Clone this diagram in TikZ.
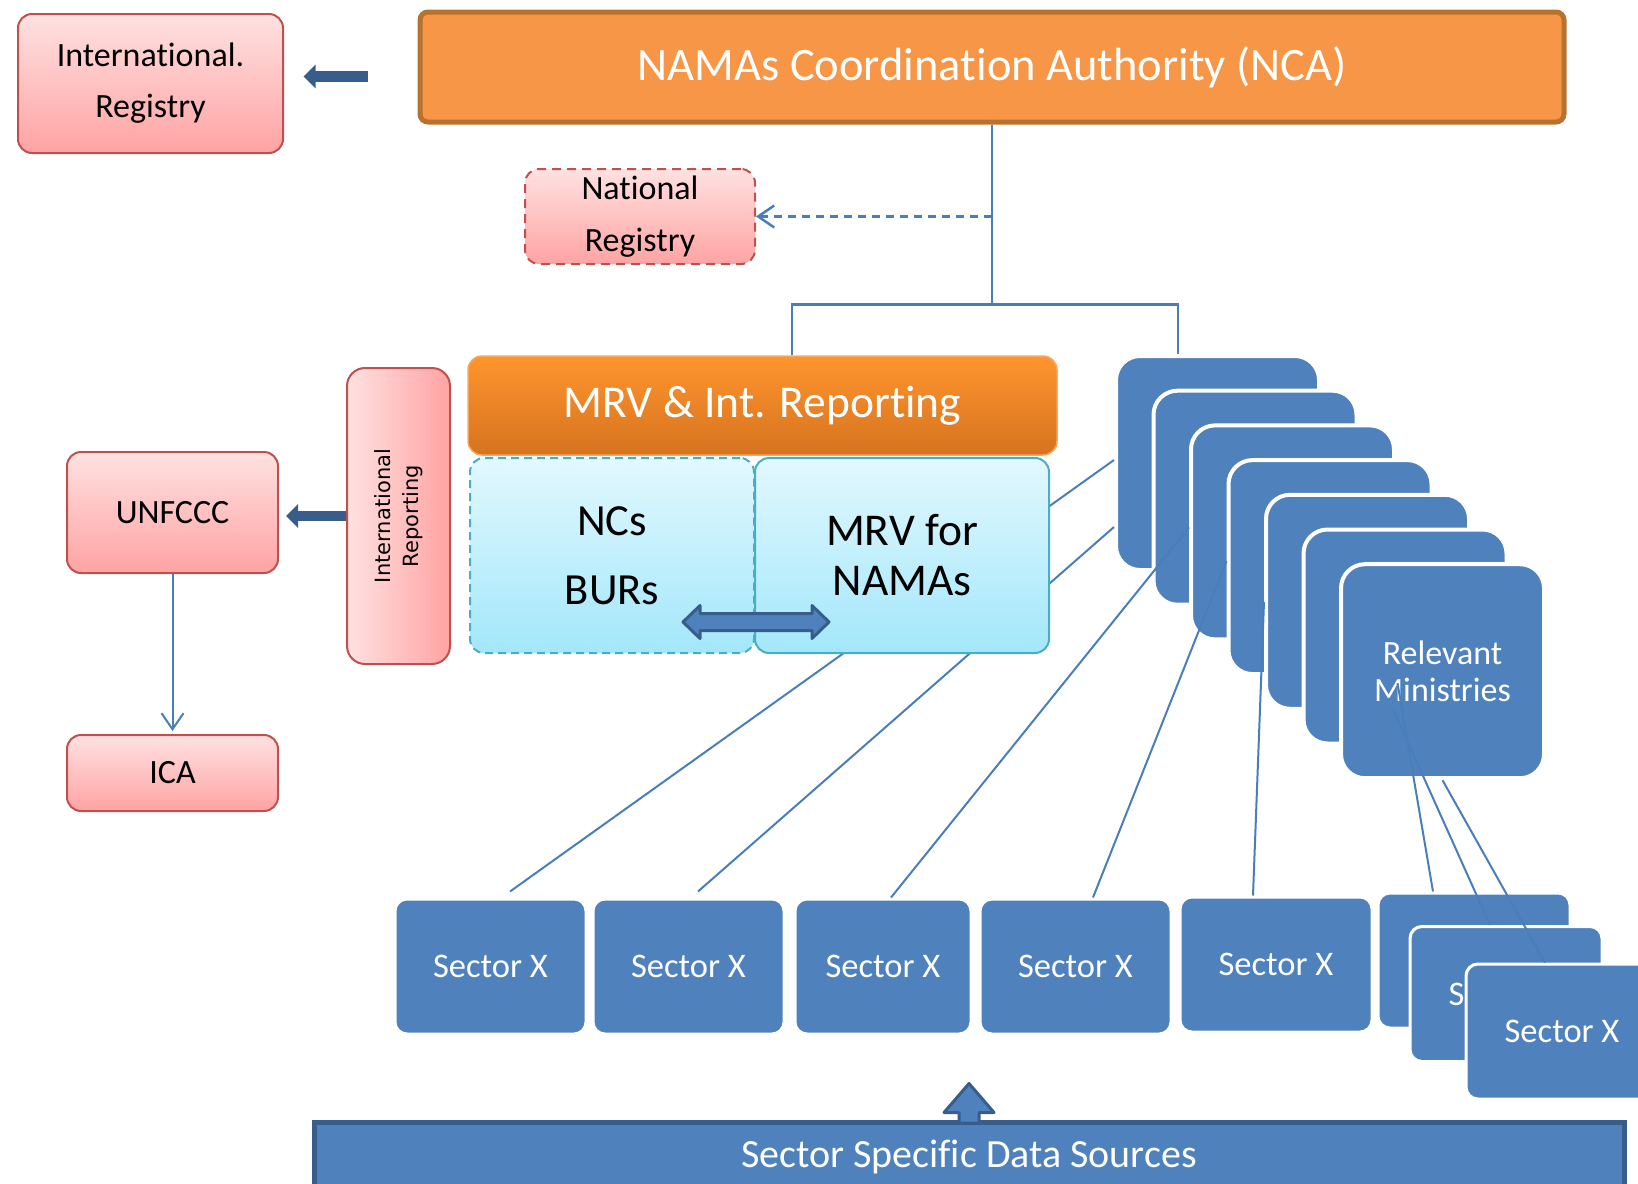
\documentclass[tikz,border=0pt]{standalone}
\usepackage{fontspec}
\usepackage{graphicx}
\setmainfont{Carlito}[Ligatures={NoCommon}]
\newfontfamily\verdfont{DejaVu Sans}
\usetikzlibrary{arrows.meta}
\definecolor{Blue}{HTML}{4F81BD}
\definecolor{DarkBlue}{HTML}{385D8A}
\definecolor{Link}{HTML}{4A7EBB}
\definecolor{Orange}{HTML}{F79646}
\definecolor{OrangeLine}{HTML}{B8722F}
\definecolor{PinkTop}{HTML}{FFE1E1}
\definecolor{PinkBottom}{HTML}{FFA3A3}
\definecolor{PinkLine}{HTML}{C0504D}
\definecolor{CyanTop}{HTML}{E2F8FE}
\definecolor{CyanBottom}{HTML}{A3E7FB}
\definecolor{CyanLine}{HTML}{4BACC6}
\definecolor{MrvTop}{HTML}{FF952E}
\definecolor{MrvBottom}{HTML}{D6731F}
\definecolor{MrvLine}{HTML}{F9A65A}

\begin{document}
\begin{tikzpicture}
    [x=1pt, y=-1pt,
    pinkbox/.style={draw=PinkLine, line width=2pt, rounded corners=14pt, top color=PinkTop, bottom color=PinkBottom,
        inner sep=0pt, align=center, font=\fontsize{34}{51}\selectfont},
    cyanbox/.style={draw=CyanLine, line width=2pt, rounded corners=14pt, top color=CyanTop, bottom color=CyanBottom,
        inner sep=0pt, align=center, minimum height=195pt},
    ministry/.style={draw=white, line width=4pt, fill=Blue, rounded corners=24pt, minimum width=203pt, minimum height=214pt,
        text=white, align=center, font=\fontsize{34}{37}\selectfont},
    sector/.style={draw=white, line width=3pt, fill=Blue, rounded corners=12pt, minimum width=192pt, minimum height=135pt,
        text=white, font=\fontsize{34.5}{40}\selectfont},
    link/.style={Link, line width=2.5pt},
    tip/.style={-{Straight Barb[length=16pt,width=22pt]}},
    fatarrow/.style={DarkBlue, line width=10.5pt, -{Triangle[width=23pt,length=12pt]}},
    blockarrow/.style={fill=Blue, draw=DarkBlue, line width=3pt, line join=round}]

    \useasboundingbox (0,0) rectangle (1638,1183);

    % top row
    \node [draw=OrangeLine, line width=5pt, fill=Orange, rounded corners=8pt, minimum width=1144pt, minimum height=110pt,
        text=white, font=\fontsize{46.5}{54}\selectfont] (nca) at (992,67) {NAMAs Coordination Authority (NCA)};
    \node [pinkbox, minimum width=265pt, minimum height=139pt] (intreg) at (150.5,83.5) {International.\\Registry};
    \node [pinkbox, dash pattern=on 9pt off 6pt, minimum width=230pt, minimum height=95pt,
        font=\fontsize{34}{52}\selectfont] (natreg) at (640,216.5) {National\\Registry};
    \draw [fatarrow, shorten <=50pt, shorten >=19.5pt] ([yshift=-9.5pt]nca.west) -- ([yshift=-9.5pt]nca.west -| intreg.east);

    % relevant ministries
    \foreach \k in {0,...,5}
        \node [ministry] (m\k) at ({1217.5+37.5*\k},{463+34.7*\k}) {};
    \node [ministry] (m6) at (1442.5,671.2) {Relevant\\Ministries};

    % sectors
    \foreach \n/\cx/\w in {1/490.5/191pt, 2/688.5/191pt, 3/883/176pt, 4/1075.5/191pt}
        \node [sector, minimum width=\w] (s\n) at (\cx,966.5) {Sector X};
    \node [sector] (s5) at (1276,964.5) {Sector X};
    \node [sector] (sa) at (1474,960.5) {Sector X};
    \node [sector] (sb) at (1506,994) {Sector X};
    \node [sector] (sc) at (1562,1031.5) {Sector X};

    \draw [link, line width=2pt] ([shift={(19.5,-6)}]s1.north) -- ([yshift=3pt]m0.west);
    \draw [link, line width=2pt] ([shift={(9.5,-6)}]s2.north) -- ([yshift=-64pt]m0.west);
    \draw [link, line width=2pt] ([xshift=8pt]s3.north) -- ([yshift=5pt]m2.west);
    \draw [link, line width=2pt] ([xshift=17.5pt]s4.north) -- ([yshift=6pt]m3.west);
    \draw [link, line width=2pt] ([xshift=-23pt]s5.north) -- (m4.west);
    \draw [link, line width=2pt] ([shift={(-45,12)}]m6.center) -- ([xshift=-41pt]sa.north);
    \draw [link, line width=2pt] ([shift={(-49,39)}]m6.center) -- ([xshift=-16pt]sb.north);
    \draw [link, line width=2pt] (m6.south) -- ([xshift=-17pt]sc.north);

    % MRV block
    \node [draw=MrvLine, line width=1.5pt, rounded corners=14pt, top color=MrvTop, bottom color=MrvBottom,
        minimum width=589pt, minimum height=99pt, text=white, font=\fontsize{45.5}{54}\selectfont] (mrv) at (762.5,405.5) {MRV \& Int. Reporting};
    \node [cyanbox, dash pattern=on 8pt off 5pt, minimum width=284pt, font=\fontsize{44.5}{69}\selectfont] (ncs) at (612,555.5) {NCs\\BURs};
    \node [cyanbox, minimum width=294pt, font=\fontsize{45.5}{50}\selectfont] (mrvnamas) at (902,555.5) {MRV for\\NAMAs};
    \coordinate (swap) at (756,622);
    \filldraw [blockarrow] (swap) ++(-73,0) -- ++(17,-16.5) -- ++(0,8) -- ++(112,0) -- ++(0,-8) -- ++(17,16.5)
        -- ++(-17,16.5) -- ++(0,-8) -- ++(-112,0) -- ++(0,8) -- cycle;

    \path (nca.south) ++(0,180) coordinate (fork);
    \draw [link] (nca.south) -- (fork);
    \draw [link] ([xshift=29.5pt]mrv.north) |- (fork) -| ([xshift=-39.5pt]m0.north);
    \draw [link, dash pattern=on 8pt off 6pt, tip] (fork |- natreg.east) -- (natreg.east);

    % international side
    \node [pinkbox, left color=PinkTop, right color=PinkBottom, rounded corners=18pt, minimum width=103pt, minimum height=296pt,
        font=\verdfont\fontsize{21}{28}\selectfont] (intrep) at (398.5,516)
        {\rotatebox{90}{\begin{tabular}{@{}c@{}}International\\Reporting\end{tabular}}};
    \node [pinkbox, minimum width=211pt, minimum height=121pt] (unfccc) at (172.5,512.5) {UNFCCC};
    \node [pinkbox, minimum width=211pt, minimum height=76pt] (ica) at (172.5,773) {ICA};
    \draw [fatarrow, shorten >=7pt] (intrep.west) -- (intrep.west -| unfccc.east);
    \draw [link, line width=2pt, tip, shorten >=3pt] (unfccc.south) -- (ica.north);

    % data sources
    \node [draw=DarkBlue, line width=5pt, fill=Blue, minimum width=1310pt, minimum height=70pt,
        text=white, font=\fontsize{40}{45}\selectfont] (data) at (969,1157) {Sector Specific Data Sources};
    \path [blockarrow] (data.north) ++(-10,2) -- ++(0,-9) -- ++(-15,0) -- ++(25,-29) -- ++(25,29) -- ++(-15,0) -- ++(0,9);
\end{tikzpicture}
\end{document}
